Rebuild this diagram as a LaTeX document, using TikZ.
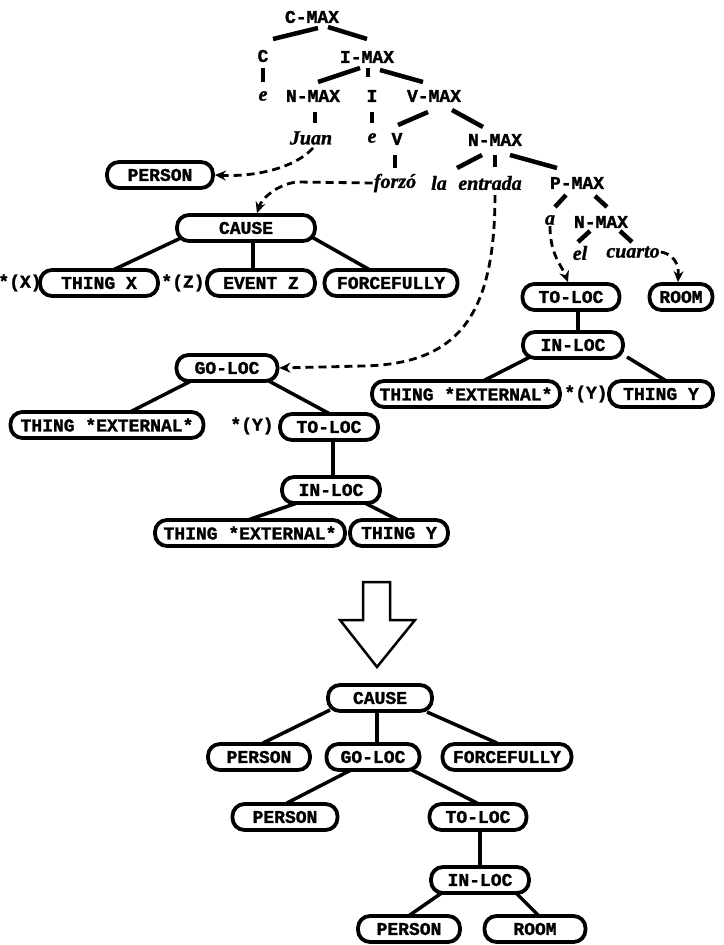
\documentclass[tikz,border=0pt]{standalone}
\usepackage{fontspec}
\setmainfont{Liberation Serif}
\newfontfamily\heavymono{Liberation Mono}[BoldFeatures={FakeBold=1.5}]
\newfontfamily\heavyserif{Liberation Serif}[BoldItalicFeatures={FakeBold=1.2}]
\usetikzlibrary{calc,arrows.meta}
\pgfdeclarelayer{bg}
\pgfsetlayers{bg,main}

\tikzset{
  lbl/.style={font=\heavymono\bfseries\fontsize{18}{20}\selectfont, inner sep=1pt},
  word/.style={font=\heavyserif\bfseries\itshape\fontsize{20}{22}\selectfont, inner sep=1pt},
  lcs/.style={draw, line width=3.8pt, rounded corners=12pt, minimum height=26pt,
              fill=white, inner sep=0pt, font=\heavymono\bfseries\fontsize{18}{20}\selectfont},
  stub/.style={line width=4.5pt},
  tie/.style={line width=3.5pt},
  ptr/.style={line width=2.8pt, dash pattern=on 8pt off 5pt,
              -{Stealth[length=11pt,width=10pt]}},
}

\begin{document}
\begin{tikzpicture}[x=1pt,y=-1pt]
\useasboundingbox (0,0) rectangle (723,945);

% ---------- syntactic tree ----------
\node[lbl] (cmax) at (312,17) {C-MAX};
\node[lbl] (cC) at (263,56) {C};
\node[lbl] (imax) at (367,57) {I-MAX};
\node[word] (ce) at (263,96) {e};
\node[lbl] (nmaxA) at (313,96) {N-MAX};
\node[lbl] (iI) at (372,96) {I};
\node[lbl] (vmax) at (434,96) {V-MAX};
\node[word] (juan) at (311,138) {Juan};
\node[word] (ie) at (372,138) {e};
\node[lbl] (vV) at (397,139) {V};
\node[lbl] (nmaxB) at (495,140) {N-MAX};
\node[word] (forzo) at (395,183) {forzó};
\node[word] (la) at (439,183) {la};
\node[word] (entrada) at (490,183) {entrada};
\node[lbl] (pmax) at (577,183) {P-MAX};
\node[word] (pa) at (550,220) {a};
\node[lbl] (nmaxC) at (601,222) {N-MAX};
\node[word] (el) at (580,253) {el};
\node[word] (cuarto) at (633,252) {cuarto};

\draw[stub] ([shift={(6,11)}]cmax.center) -- ([shift={(10,-17)}]cC.center);
\draw[stub] ([shift={(16,10)}]cmax.center) -- ([shift={(0,-18)}]imax.center);
\draw[stub] ([shift={(0,12)}]cC.center) -- ([shift={(0,-14)}]ce.center);
\draw[stub] ([shift={(-7,11)}]imax.center) -- ([shift={(5,-14)}]nmaxA.center);
\draw[stub] ([shift={(1,11)}]imax.center) -- ([shift={(-4,-19)}]iI.center);
\draw[stub] ([shift={(13,13)}]imax.center) -- ([shift={(-11,-14)}]vmax.center);
\draw[stub] ([shift={(2,16)}]nmaxA.center) -- ([shift={(4,-15)}]juan.center);
\draw[stub] ([shift={(0,16)}]iI.center) -- ([shift={(0,-15)}]ie.center);
\draw[stub] ([shift={(-6,16)}]vmax.center) -- ([shift={(1,-14)}]vV.center);
\draw[stub] ([shift={(18,14)}]vmax.center) -- ([shift={(-12,-13)}]nmaxB.center);
\draw[stub] ([shift={(-2,16)}]vV.center) -- ([shift={(0,-15)}]forzo.center);
\draw[stub] ([shift={(-13,15)}]nmaxB.center) -- ([shift={(18,-15)}]la.center);
\draw[stub] ([shift={(0,15)}]nmaxB.center) -- ([shift={(5,-16)}]entrada.center);
\draw[stub] ([shift={(15,15)}]nmaxB.center) -- ([shift={(-20,-15)}]pmax.center);
\draw[stub] ([shift={(-11,12)}]pmax.center) -- ([shift={(5,-13)}]pa.center);
\draw[stub] ([shift={(18,13)}]pmax.center) -- ([shift={(6,-15)}]nmaxC.center);
\draw[stub] ([shift={(-11,9)}]nmaxC.center) -- ([shift={(-2,-11)}]el.center);
\draw[stub] ([shift={(19,9)}]nmaxC.center) -- ([shift={(-1,-10)}]cuarto.center);

% ---------- lexical structures ----------
\node[lcs, minimum width=106pt] (personA) at (160,175) {PERSON};

\node[lcs, minimum width=138pt] (causeA) at (246,228) {CAUSE};
\node[lbl] (starX) at (20,283) {*(X)};
\node[lcs, minimum width=118pt] (thingX) at (99,283) {THING X};
\node[lbl] (starZ) at (183,283) {*(Z)};
\node[lcs, minimum width=108pt] (eventZ) at (261,283) {EVENT Z};
\node[lcs, minimum width=133pt] (forceA) at (391,283) {FORCEFULLY};

\node[lcs, minimum width=97pt] (tolocA) at (571,297) {TO-LOC};
\node[lcs, minimum width=63pt] (roomA) at (681,297) {ROOM};
\node[lcs, minimum width=100pt] (inlocA) at (573,345) {IN-LOC};
\node[lcs, minimum width=188pt] (extA) at (466,394) {THING *EXTERNAL*};
\node[lbl] (starYA) at (586,394) {*(Y)};
\node[lcs, minimum width=104pt] (thingYA) at (661,394) {THING Y};

\node[lcs, minimum width=101pt] (golocA) at (227,368) {GO-LOC};
\node[lcs, minimum width=193pt] (extB) at (107,425) {THING *EXTERNAL*};
\node[lbl] (starYB) at (252,426) {*(Y)};
\node[lcs, minimum width=98pt] (tolocB) at (329,427) {TO-LOC};
\node[lcs, minimum width=98pt] (inlocB) at (331,490) {IN-LOC};
\node[lcs, minimum width=190pt] (extC) at (250,533) {THING *EXTERNAL*};
\node[lcs, minimum width=98pt] (thingYB) at (399,533) {THING Y};

% ---------- composed structure ----------
\node[lcs, minimum width=104pt] (causeB) at (380,698) {CAUSE};
\node[lcs, minimum width=102pt] (personB) at (259,757) {PERSON};
\node[lcs, minimum width=93pt] (golocB) at (373,757) {GO-LOC};
\node[lcs, minimum width=129pt] (forceB) at (507,757) {FORCEFULLY};
\node[lcs, minimum width=105pt] (personC) at (285,817) {PERSON};
\node[lcs, minimum width=97pt] (tolocC) at (478,817) {TO-LOC};
\node[lcs, minimum width=98pt] (inlocC) at (480,880) {IN-LOC};
\node[lcs, minimum width=102pt] (personD) at (409,929) {PERSON};
\node[lcs, minimum width=101pt] (roomB) at (535,929) {ROOM};

\begin{pgfonlayer}{bg}
\draw[tie] ([shift={(-63,9)}]causeA.center) -- ([shift={(14,-13)}]thingX.center);
\draw[tie] ([shift={(7,12)}]causeA.center) -- ([shift={(-8,-13)}]eventZ.center);
\draw[tie] ([shift={(64,8)}]causeA.center) -- ([shift={(-21,-13)}]forceA.center);

\draw[tie] ([shift={(7,12)}]tolocA.center) -- ([shift={(5,-12)}]inlocA.center);
\draw[tie] ([shift={(-43,12)}]inlocA.center) -- ([shift={(15,-12)}]extA.center);
\draw[tie] ([shift={(54,12)}]inlocA.center) -- ([shift={(7,-12)}]thingYA.center);

\draw[tie] ([shift={(-34,12)}]golocA.center) -- ([shift={(23,-13)}]extB.center);
\draw[tie] ([shift={(40,12)}]golocA.center) -- ([shift={(1,-13)}]tolocB.center);
\draw[tie] ([shift={(4,12)}]tolocB.center) -- ([shift={(2,-12)}]inlocB.center);
\draw[tie] ([shift={(-31,12)}]inlocB.center) -- ([shift={(-5,-12)}]extC.center);
\draw[tie] ([shift={(32,12)}]inlocB.center) -- ([shift={(1,-12)}]thingYB.center);

\draw[tie] ([shift={(-50,12)}]causeB.center) -- ([shift={(4,-14)}]personB.center);
\draw[tie] ([shift={(-3,13)}]causeB.center) -- ([shift={(4,-12)}]golocB.center);
\draw[tie] ([shift={(47,14)}]causeB.center) -- ([shift={(-10,-14)}]forceB.center);
\draw[tie] ([shift={(-20,12)}]golocB.center) -- ([shift={(2,-14)}]personC.center);
\draw[tie] ([shift={(37,12)}]golocB.center) -- ([shift={(-1,-14)}]tolocC.center);
\draw[tie] ([shift={(2,12)}]tolocC.center) -- ([shift={(0,-12)}]inlocC.center);
\draw[tie] ([shift={(-37,12)}]inlocC.center) -- ([shift={(-2,-12)}]personD.center);
\draw[tie] ([shift={(35,12)}]inlocC.center) -- ([shift={(5,-12)}]roomB.center);
\end{pgfonlayer}

% ---------- lexical pointers ----------
\draw[ptr] ([shift={(2,10)}]juan.center) .. controls (295,168) and (255,177) .. (personA.east);
\draw[ptr] (forzo.west) -- (297,182) .. controls (278,184) and (262,198) .. ([xshift=11]causeA.north);
\draw[ptr] ([shift={(5,12)}]entrada.center) .. controls (495,320) and (455,364) .. (363,366) -- (golocA.east);
\draw[ptr] (pa.south) .. controls (550,255) and (562,266) .. ([xshift=-3]tolocA.north);
\draw[ptr] (cuarto.east) .. controls (672,254) and (679,262) .. ([xshift=-3]roomA.north);

% ---------- derivation arrow ----------
\draw[line width=2.5pt, fill=white, line join=miter]
  (363,582) -- (390,582) -- (390,620) -- (415,620) -- (377,667)
  -- (340,620) -- (363,620) -- cycle;
\end{tikzpicture}
\end{document}
